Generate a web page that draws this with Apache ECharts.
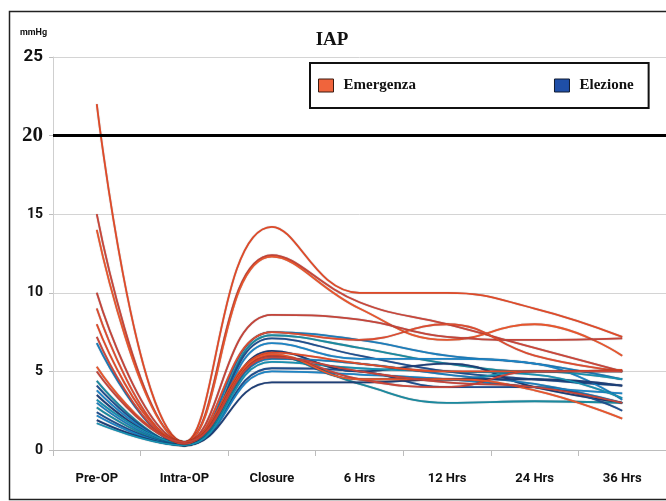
<!DOCTYPE html>
<html>
<head>
<meta charset="utf-8">
<script src="https://cdn.jsdelivr.net/npm/echarts@6/dist/echarts.min.js"></script>
<style>
html,body{margin:0;padding:0;background:#fff;}
#chart{width:666px;height:501px;}
</style>
</head>
<body>
<div id="chart"></div>
<script>
// ---- data ----
const categories = ['Pre-OP', 'Intra-OP', 'Closure', '6 Hrs', '12 Hrs', '24 Hrs', '36 Hrs'];
const yTicks = [0, 5, 10, 15, 20, 25];
const threshold = 20;

// Emergenza patients (red)
const emergenzaValues = [
  [22.0, 0.5, 14.2, 10.0, 10.0, 9.0, 7.2],
  [15.0, 0.5, 12.4, 9.4, 8.0, 6.5, 5.0],
  [14.0, 0.5, 12.3, 9.0, 7.0, 8.0, 6.0],
  [10.0, 0.5, 8.6, 8.3, 7.2, 7.0, 7.1],
  [9.0, 0.4, 7.5, 7.0, 8.0, 6.0, 5.0],
  [8.0, 0.5, 6.2, 5.5, 5.0, 5.0, 5.1],
  [7.2, 0.4, 6.0, 4.5, 4.0, 5.0, 5.0],
  [5.3, 0.5, 6.1, 4.5, 4.5, 3.8, 2.0],
  [5.0, 0.5, 5.9, 5.0, 4.3, 4.0, 3.0]
];

// Elezione patients (blue)
const elezioneValues = [
  [6.8, 0.3, 7.5, 7.0, 6.0, 5.5, 4.5],
  [4.4, 0.3, 7.3, 6.5, 5.5, 5.0, 5.0],
  [4.1, 0.3, 7.1, 6.0, 5.0, 4.5, 4.1],
  [3.8, 0.3, 6.8, 5.8, 5.8, 5.5, 3.2],
  [3.5, 0.3, 6.3, 5.0, 5.5, 4.0, 3.0],
  [3.2, 0.4, 6.0, 4.5, 4.5, 5.0, 4.5],
  [3.0, 0.3, 5.8, 5.5, 4.8, 4.2, 3.0],
  [2.7, 0.3, 6.0, 4.2, 3.0, 3.1, 3.0],
  [2.4, 0.3, 5.2, 5.0, 4.0, 4.0, 2.5],
  [2.2, 0.3, 5.0, 4.8, 4.5, 4.0, 3.6],
  [1.9, 0.3, 4.3, 4.3, 4.5, 4.5, 4.1],
  [1.7, 0.3, 5.6, 5.2, 5.0, 4.8, 3.3]
];

const redTones = ['#E04A28', '#C9463A', '#E8552C', '#C4443A', '#DC4C30'];
const blueTones = ['#1B7DBA', '#1A8A9E', '#1F4F8E', '#1C84C4', '#1E3F76', '#1790B0'];

const chart = echarts.init(document.getElementById('chart'), null, {renderer: 'canvas'});

const series = [];
elezioneValues.forEach((vals, i) => {
  series.push({
    name: 'Elezione', type: 'line', data: vals, smooth: 0.45,
    symbol: 'none', silent: true,
    lineStyle: {width: 1.8, color: blueTones[i % blueTones.length], shadowColor: 'rgba(0,0,40,0.4)', shadowBlur: 1},
    itemStyle: {color: '#1F4FA8'}, z: 3
  });
});
emergenzaValues.forEach((vals, i) => {
  series.push({
    name: 'Emergenza', type: 'line', data: vals, smooth: 0.45,
    symbol: 'none', silent: true,
    lineStyle: {width: 1.8, color: redTones[i % redTones.length], shadowColor: 'rgba(40,0,0,0.4)', shadowBlur: 1},
    itemStyle: {color: '#F0643C'}, z: 4
  });
});
// threshold line
series.push({
  name: 'threshold', type: 'line', data: [], silent: true, z: 5,
  markLine: {
    silent: true, symbol: 'none', label: {show: false},
    lineStyle: {color: '#000', width: 3, type: 'solid'},
    data: [{yAxis: threshold}]
  }
});

const option = {
  animation: false,
  backgroundColor: '#fff',
  title: {
    text: 'IAP', left: 327, top: 26, textAlign: 'center',
    textStyle: {fontFamily: 'Liberation Serif', fontWeight: 'bold', fontSize: 19, color: '#111'}
  },
  legend: {
    left: 310, top: 63,
    padding: [15, 15, 15, 8],
    itemWidth: 15, itemHeight: 13, itemGap: 138,
    borderColor: '#111', borderWidth: 2, borderRadius: 0,
    selectedMode: false,
    textStyle: {fontFamily: 'Liberation Serif', fontWeight: 'bold', fontSize: 15, color: '#111', padding: [0, 0, 0, 5]},
    data: [
      {name: 'Emergenza', icon: 'rect', itemStyle: {color: '#F0643C', borderColor: '#3a1a10', borderWidth: 1}},
      {name: 'Elezione', icon: 'rect', itemStyle: {color: '#1F4FA8', borderColor: '#101a30', borderWidth: 1}}
    ]
  },
  grid: {left: 53, top: 57, width: 616, height: 393, containLabel: false},
  xAxis: {
    type: 'category', data: categories, boundaryGap: true,
    axisLine: {lineStyle: {color: '#BDBDBD', width: 1}},
    axisTick: {show: true, length: 6, lineStyle: {color: '#BDBDBD'}},
    axisLabel: {margin: 22, fontFamily: 'Liberation Sans Narrow, Roboto, sans-serif', fontWeight: 'bold', fontSize: 13, color: '#111'}
  },
  yAxis: {
    type: 'value', min: 0, max: 25, interval: 5,
    axisLine: {show: true, lineStyle: {color: '#CFCFCF'}},
    axisTick: {show: true, length: 4, lineStyle: {color: '#BDBDBD'}},
    splitLine: {lineStyle: {color: '#D4D4D4', width: 1}},
    axisLabel: {
      margin: 10,
      formatter: v => (yTicks.includes(v) ? (v === 20 ? '{big|' + v + '}' : (v === 25 ? '{mid|' + v + '}' : '{n|' + v + '}')) : ''),
      rich: {
        n: {fontFamily: 'Liberation Sans Narrow, Roboto, sans-serif', fontWeight: 'bold', fontSize: 14, color: '#111'},
        mid: {fontFamily: 'Liberation Sans Narrow, Roboto, sans-serif', fontWeight: 'bold', fontSize: 17, color: '#111'},
        big: {fontFamily: 'Liberation Serif', fontWeight: 'bold', fontSize: 21, color: '#111'}
      }
    }
  },
  graphic: [
    {type: 'rect', left: 7, top: 9, shape: {width: 680, height: 488}, style: {fill: 'none', stroke: '#222', lineWidth: 1.5}, silent: true},
    {type: 'text', left: 20, top: 28, style: {text: 'mmHg', fontFamily: 'Liberation Sans Narrow, Roboto, sans-serif', fontWeight: 'bold', fontSize: 9, fill: '#111'}}
  ],
  series: series
};
chart.setOption(option);
</script>
</body>
</html>
